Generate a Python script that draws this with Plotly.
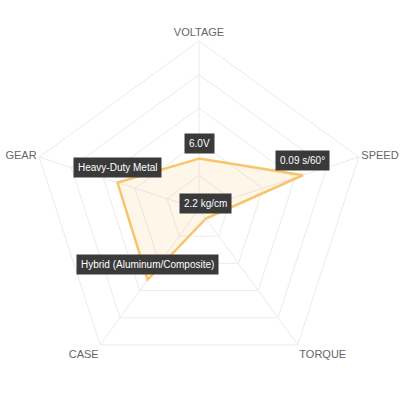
import math
import plotly.graph_objects as go

# ----------------------------
# Datos
# ----------------------------
ejes = ['VOLTAGE', 'SPEED', 'TORQUE', 'CASE', 'GEAR']
puntaje = [30, 65, 7, 52, 51]
etiquetas = ['6.0V', '0.09 s/60°', '2.2 kg/cm', 'Hybrid (Aluminum/Composite)', 'Heavy-Duty Metal']
r_max = 100

# ----------------------------
# Grafico radar
# ----------------------------
fig = go.Figure()
fig.add_trace(go.Scatterpolar(
    r=puntaje + puntaje[:1],
    theta=ejes + ejes[:1],
    mode='lines',
    line=dict(color='#f9c46b', width=2.5),
    fill='toself',
    fillcolor='rgba(249,196,107,0.15)',
    hoverinfo='skip',
))

# etiquetas con fondo oscuro sobre cada punto
for i, (val, txt) in enumerate(zip(puntaje, etiquetas)):
    ang = math.radians(90 - i * 360 / len(ejes))
    fig.add_annotation(
        x=0.5 + 0.5 * val / r_max * math.cos(ang),
        y=0.5 + 0.5 * val / r_max * math.sin(ang),
        xref='paper', yref='paper',
        xanchor='center', yanchor='middle',
        text=txt, showarrow=False, yshift=15,
        font=dict(color='white', size=10, family='Arial, Liberation Sans, sans-serif'),
        bgcolor='#3a3a3a', borderpad=4,
    )

fig.update_layout(
    width=404, height=404,
    margin=dict(l=31, r=37, t=41, b=27),
    paper_bgcolor='white',
    showlegend=False,
    polar=dict(
        domain=dict(x=[0, 1], y=[0, 1]),
        bgcolor='white',
        gridshape='linear',
        radialaxis=dict(range=[0, r_max], dtick=20, showticklabels=False, ticks='',
                        showline=False, gridcolor='#ebebeb', gridwidth=1),
        angularaxis=dict(rotation=90, direction='clockwise', ticks='',
                         gridcolor='#ebebeb', linecolor='#ebebeb', linewidth=1,
                         tickfont=dict(color='#666666', size=11,
                                       family='Arial, Liberation Sans, sans-serif')),
    ),
)

# quitar el margen por defecto del body para que la figura quede en 0,0
fig.write_html('out.html', config={'displayModeBar': False},
               post_script="document.body.style.margin='0';document.body.style.overflow='hidden';")
